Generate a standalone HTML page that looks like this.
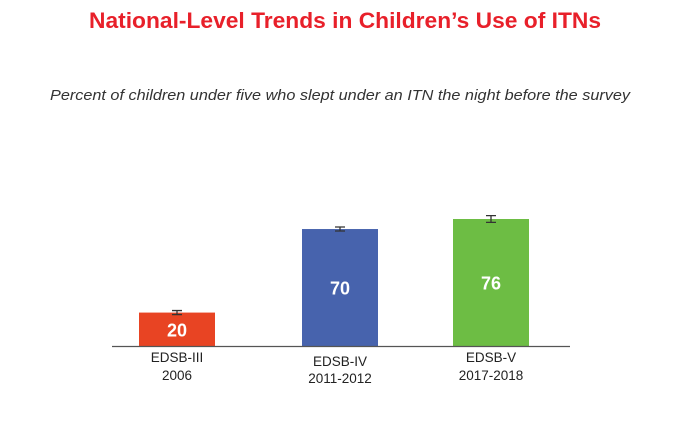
<!DOCTYPE html>
<html><head><meta charset="utf-8"><style>
body{margin:0;background:#fff;width:690px;height:431px;overflow:hidden;font-family:"Liberation Sans",sans-serif}
</style></head><body>
<svg width="690" height="431" xmlns="http://www.w3.org/2000/svg">
<text x="345" y="28" text-anchor="middle" font-size="22" font-weight="bold" fill="#e8202a" textLength="512" lengthAdjust="spacingAndGlyphs">National-Level Trends in Children’s Use of ITNs</text>
<text x="340" y="100" text-anchor="middle" font-size="15" font-style="italic" fill="#333" textLength="580" lengthAdjust="spacingAndGlyphs">Percent of children under five who slept under an ITN the night before the survey</text>
<g id="bars"></g>
<line x1="112" y1="346.5" x2="570" y2="346.5" stroke="#555" stroke-width="1.2"/>
</svg>
<script>
const categories=["EDSB-III","EDSB-IV","EDSB-V"];
const years=["2006","2011-2012","2017-2018"];
const values=[20,70,76];
const errors=[1.2,1.2,2];
const colors=["#e84423","#4763ad","#6dbd44"];
const NS="http://www.w3.org/2000/svg";
const g=document.getElementById('bars');
const base=346, k=1.671, centers=[177,340,491], bw=76;
const y=v=>base-v*k;
function mk(t,a){const e=document.createElementNS(NS,t);for(const n in a)e.setAttribute(n,a[n]);g.appendChild(e);return e;}
values.forEach((v,i)=>{
  const cx=centers[i];
  const r=mk('rect',{x:cx-bw/2,y:y(v),width:bw,height:base-y(v),fill:colors[i]});
  
  
  const t=mk('text',{x:cx,y:(y(v)+base)/2+7,'text-anchor':'middle','font-size':18,'font-weight':'bold',fill:'#fff'});
  t.textContent=v;
  
  
  const e=errors[i];
  const eb=mk('path',{d:`M${cx} ${y(v+e)}V${y(v-e)}M${cx-5} ${y(v+e)}H${cx+5}M${cx-5} ${y(v-e)}H${cx+5}`,stroke:'#333','stroke-width':1.3,fill:'none'});
  
  
  const l1=mk('text',{x:cx,y:362+(i==1?4:0),'text-anchor':'middle','font-size':13.5,fill:'#222'});
  l1.textContent=categories[i];
  
  
  const l2=mk('text',{x:cx,y:380+(i==1?3:0),'text-anchor':'middle','font-size':13.5,fill:'#222'});
  l2.textContent=years[i];
  
  
});
</script>
</body></html>
